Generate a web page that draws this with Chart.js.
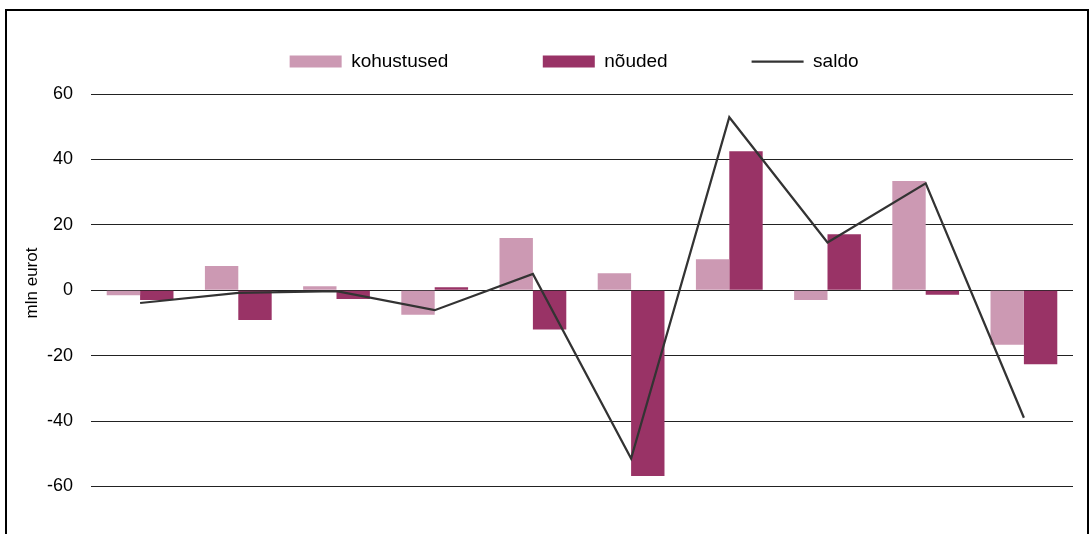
<!DOCTYPE html>
<html>
<head>
<meta charset="utf-8">
<script src="https://cdn.jsdelivr.net/npm/chart.js@4.4.1/dist/chart.umd.min.js"></script>
<style>
  html, body { margin: 0; padding: 0; background: #fff; overflow: hidden; }
  #wrap { position: relative; width: 1092px; height: 534px; overflow: hidden; }
  #frame { position: absolute; left: 5px; top: 9px; width: 1080px; height: 600px;
           border: 2px solid #000; border-bottom: none; }
  #chart { position: absolute; left: 0; top: 0; }
</style>
</head>
<body>
<div id="wrap">
  <div id="frame"></div>
  <canvas id="chart" width="1092" height="561"></canvas>
</div>
<script>
// 10 periods, no labels shown on the x axis
const categories = ['1', '2', '3', '4', '5', '6', '7', '8', '9', '10'];

const kohustused = [-1.5, 7.4, 1.2, -7.5, 16, 5.2, 9.5, -3, 33.4, -16.7];
const nouded = [-3, -9.1, -2.7, 0.9, -12, -56.8, 42.5, 17.1, -1.4, -22.6];
const saldo = [-3.9, -0.8, -0.3, -6.1, 5, -51.5, 52.9, 14.6, 32.7, -39];

const yTicks = [-60, -40, -20, 0, 20, 40, 60];

const font = '"Liberation Sans", Arial, sans-serif';

// extra spaces after the labels to spread the legend items out
const legendGap = [16, 14, 3];

const config = {
  type: 'bar',
  data: {
    labels: categories,
    datasets: [
      {
        label: 'kohustused',
        data: kohustused,
        backgroundColor: '#cc99b3',
        pointStyle: 'rect',
        categoryPercentage: 0.68,
        barPercentage: 1.0,
        order: 1,
      },
      {
        label: 'nõuded',
        data: nouded,
        backgroundColor: '#993366',
        pointStyle: 'rect',
        categoryPercentage: 0.68,
        barPercentage: 1.0,
        order: 1,
      },
      {
        type: 'line',
        label: 'saldo',
        data: saldo,
        borderColor: '#333333',
        backgroundColor: '#333333',
        borderWidth: 2.25,
        pointRadius: 0,
        pointStyle: 'line',
        tension: 0,
        order: 0,
      },
    ],
  },
  options: {
    responsive: false,
    animation: false,
    layout: { padding: { top: 42, left: 14, right: 19, bottom: 2 } },
    plugins: {
      tooltip: { enabled: false },
      legend: {
        position: 'top',
        fullSize: false,
        labels: {
          usePointStyle: true,
          pointStyleWidth: 52,
          boxHeight: 12,
          padding: 10,
          color: '#000',
          font: { family: font, size: 19 },
          sort: (a, b) => a.datasetIndex - b.datasetIndex,
          generateLabels: (chart) => {
            const items = Chart.defaults.plugins.legend.labels.generateLabels(chart);
            items.forEach((it) => {
              it.text = it.text + ' '.repeat(legendGap[it.datasetIndex]);
            });
            return items;
          },
        },
      },
    },
    scales: {
      x: { display: false, grid: { display: false } },
      y: {
        min: -74,
        max: 64,
        afterBuildTicks: (axis) => {
          axis.ticks = yTicks.map((v) => ({ value: v }));
        },
        afterFit: (axis) => {
          axis.width = 77;
        },
        ticks: { padding: 18, color: '#000', font: { family: font, size: 18 } },
        grid: { color: '#222', lineWidth: 1, drawTicks: false },
        border: { display: false },
        title: {
          display: true,
          // leading spaces lift the rotated title a little
          text: ' '.repeat(10) + 'mln eurot',
          color: '#000',
          font: { family: font, size: 17 },
          padding: { top: 8, bottom: 5 },
        },
      },
    },
  },
};

new Chart(document.getElementById('chart'), config);
</script>
</body>
</html>
